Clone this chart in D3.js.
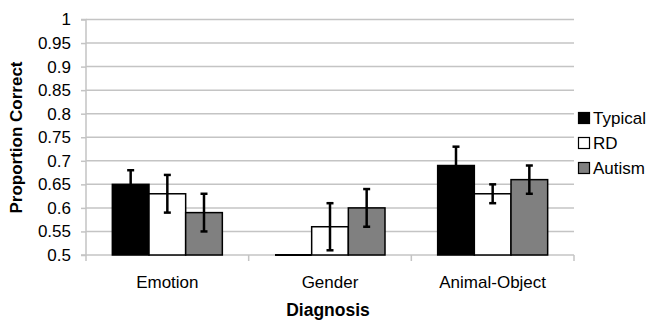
<!DOCTYPE html>
<html><head><meta charset="utf-8">
<script src="https://cdn.jsdelivr.net/npm/d3@7"></script>
<style>body{margin:0;background:#fff}svg{display:block;font-family:"Liberation Sans",Arial,sans-serif}</style>
</head><body><svg id="c" width="652" height="322"></svg>
<script>
const categories = ["Emotion", "Gender", "Animal-Object"];
const seriesNames = ["Typical", "RD", "Autism"];
const seriesColors = ["#000000", "#ffffff", "#808080"];
const typical = [0.65, 0.50, 0.69];
const typicalErr = [0.03, 0.00, 0.04];
const rd = [0.63, 0.56, 0.63];
const rdErr = [0.04, 0.05, 0.02];
const autism = [0.59, 0.60, 0.66];
const autismErr = [0.04, 0.04, 0.03];
const yTicks = [0.5,0.55,0.6,0.65,0.7,0.75,0.8,0.85,0.9,0.95,1];

const values = [typical, rd, autism];
const errs = [typicalErr, rdErr, autismErr];

const svg = d3.select("#c");
const m = {l:86, r:574, t:19.5, b:255};
const x = d3.scaleBand().domain(categories).range([m.l, m.r]).padding(0);
const groupW = 110;
const gx = d3.scaleBand().domain(seriesNames).range([(x.bandwidth()-groupW)/2, (x.bandwidth()+groupW)/2]);
const y = d3.scaleLinear().domain([0.5, 1]).range([m.b, m.t]);

// gridlines
svg.append("g").selectAll("line").data(yTicks.filter(d=>d>0.5)).join("line")
  .attr("x1", m.l).attr("x2", m.r).attr("y1", d=>y(d)).attr("y2", d=>y(d))
  .attr("stroke", "#c4c4c4").attr("stroke-width", 1.5);

// y axis
const ya = svg.append("g").attr("transform", `translate(${m.l},0)`)
  .call(d3.axisLeft(y).tickValues(yTicks).tickSize(5).tickPadding(10).tickFormat(d=>String(+d.toFixed(2))));
ya.select(".domain").attr("stroke", "#c4c4c4").attr("stroke-width", 1.5).attr("d", `M-5,${m.t}H0V${m.b}H-5`);
ya.selectAll(".tick line").attr("stroke", "#c4c4c4").attr("stroke-width", 1.5);
ya.selectAll(".tick text").attr("font-size", 17).attr("fill", "#000").attr("font-family", "Liberation Sans, Arial, sans-serif");

// x axis
const xa = svg.append("g").attr("transform", `translate(0,${m.b})`);
xa.append("line").attr("x1", m.l).attr("x2", m.r).attr("stroke", "#c4c4c4").attr("stroke-width", 1.5);
const bounds = categories.map(c=>x(c)).concat([m.r]);
xa.selectAll("line.t").data(bounds).join("line").attr("class","t")
  .attr("x1", d=>d).attr("x2", d=>d).attr("y1", 0).attr("y2", 6)
  .attr("stroke", "#c4c4c4").attr("stroke-width", 1.5);
xa.selectAll("text").data(categories).join("text")
  .attr("x", d=>x(d)+x.bandwidth()/2).attr("y", 33).attr("text-anchor", "middle")
  .attr("font-size", 17).text(d=>d);

// bars
seriesNames.forEach((s, si) => {
  const g = svg.append("g");
  g.selectAll("rect").data(categories).join("rect")
    .attr("x", c=>x(c)+gx(s)).attr("width", gx.bandwidth())
    .attr("y", (c,i)=>y(values[si][i])).attr("height", (c,i)=>Math.max(0, y(0.5)-y(values[si][i])))
    .attr("fill", seriesColors[si]).attr("stroke", "#000").attr("stroke-width", 1.5);
  g.selectAll("line.z").data(categories.filter((c,i)=>values[si][i]===0.5)).join("line").attr("class","z")
    .attr("x1", c=>x(c)+gx(s)).attr("x2", c=>x(c)+gx(s)+gx.bandwidth())
    .attr("y1", y(0.5)).attr("y2", y(0.5)).attr("stroke", "#000").attr("stroke-width", 2);
});
// error bars
seriesNames.forEach((s, si) => {
  categories.forEach((c, i) => {
    const e = errs[si][i];
    if (!e) return;
    const cx = x(c)+gx(s)+gx.bandwidth()/2;
    const v = values[si][i];
    const g = svg.append("g").attr("stroke", "#000").attr("stroke-width", 2.5);
    g.append("line").attr("x1", cx).attr("x2", cx).attr("y1", y(v+e)).attr("y2", y(v-e));
    g.append("line").attr("x1", cx-3.5).attr("x2", cx+3.5).attr("y1", y(v+e)).attr("y2", y(v+e));
    g.append("line").attr("x1", cx-3.5).attr("x2", cx+3.5).attr("y1", y(v-e)).attr("y2", y(v-e));
  });
});

// legend
const lg = svg.append("g");
seriesNames.forEach((s, i) => {
  const ly = 118 + i*25;
  lg.append("rect").attr("x", 578.5).attr("y", ly-5.5).attr("width", 11).attr("height", 11)
    .attr("fill", seriesColors[i]).attr("stroke", "#000").attr("stroke-width", 1.2);
  lg.append("text").attr("x", 593).attr("y", ly+6).attr("font-size", 17).text(s);
});

// axis titles
svg.append("text").attr("x", (m.l+m.r)/2 - 2).attr("y", 316).attr("text-anchor", "middle")
  .attr("font-size", 17.5).attr("font-weight", "bold").text("Diagnosis");
svg.append("text").attr("transform", `translate(22,137.5) rotate(-90)`).attr("text-anchor", "middle")
  .attr("font-size", 17).attr("font-weight", "bold").text("Proportion Correct");
</script></body></html>
